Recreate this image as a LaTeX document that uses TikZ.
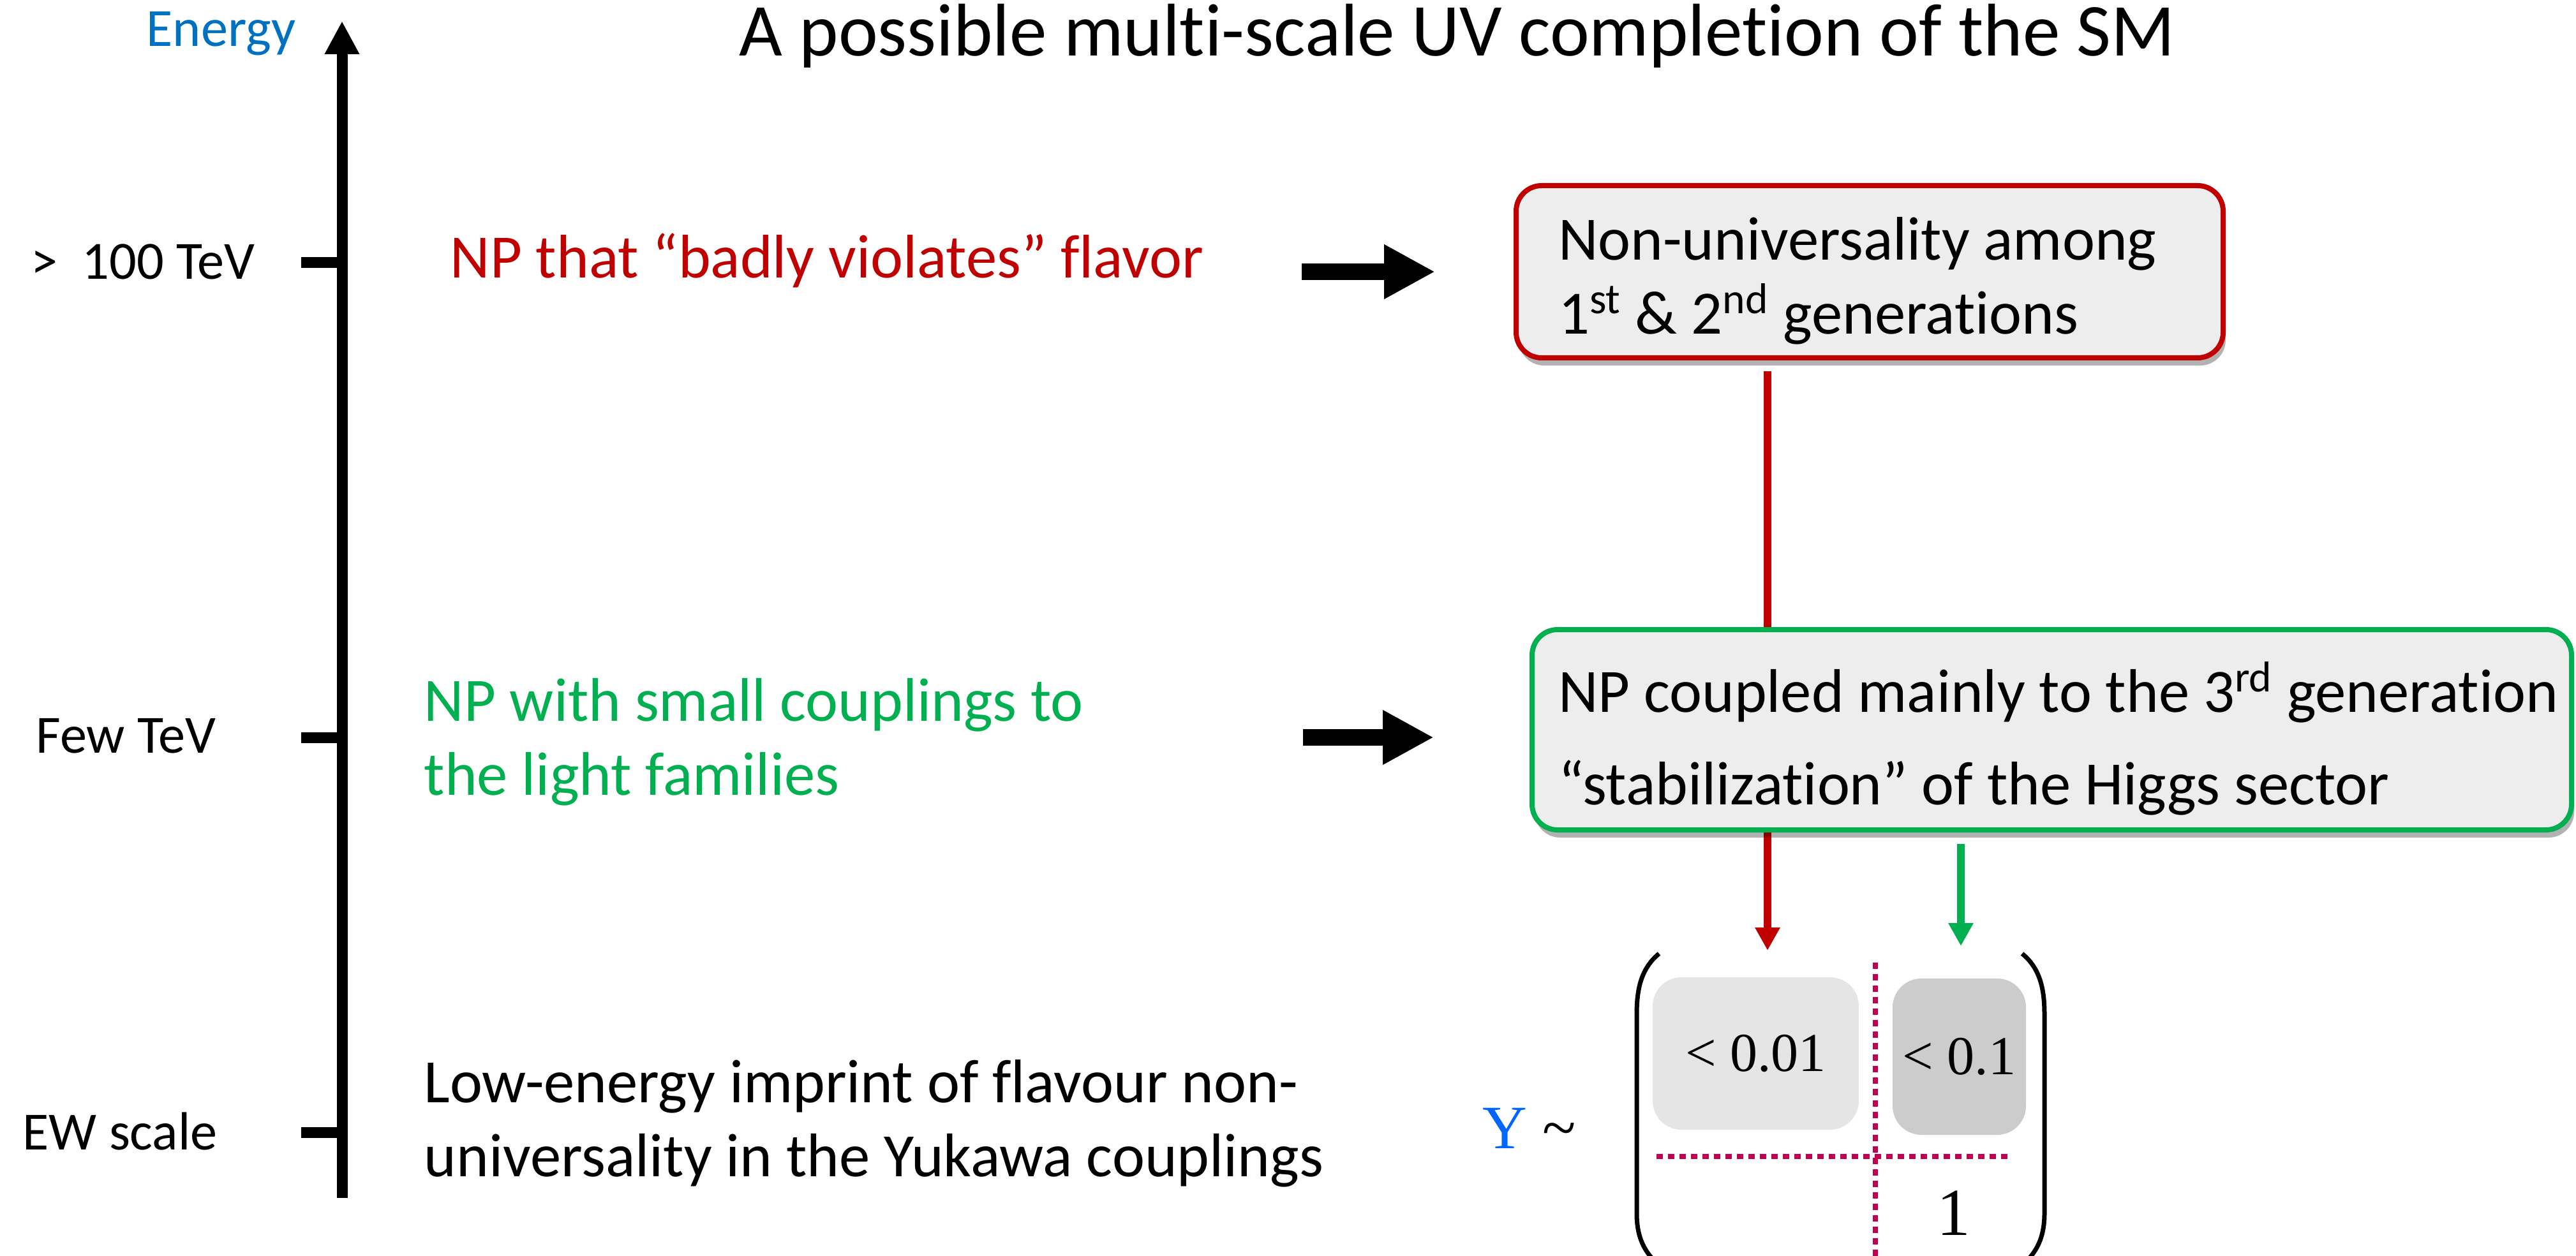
\documentclass[tikz,border=0pt]{standalone}
\usepackage{fontspec}
\setmainfont{Carlito}[Ligatures=NoCommon]
\newfontfamily\tms{Liberation Serif}
\usetikzlibrary{arrows.meta, positioning, shadows}
\definecolor{cred}{HTML}{C00000}
\definecolor{cgreen}{HTML}{00B050}
\definecolor{cblue}{HTML}{0070C0}
\definecolor{cyblue}{HTML}{0066FF}
\definecolor{cfill}{HTML}{EDEDED}
\definecolor{cdot}{HTML}{C00050}
\tikzset{
  lvl/.style={font=\fontsize{24}{29}\selectfont, inner sep=0pt, anchor=base west},
  desc/.style={font=\fontsize{27.5}{33}\selectfont, inner sep=0pt, align=flush left, anchor=base west},
  npbox/.style={draw=#1, fill=cfill, line width=0.08cm, rounded corners=0.4cm, align=flush left,
    font=\fontsize{27.5}{33}\selectfont,
    drop shadow={shadow xshift=0.04cm, shadow yshift=-0.12cm, opacity=0.3, fill=black}},
  link/.style={-{Triangle[width=0.37cm, length=0.36cm]}, draw=#1, line width=0.12cm},
  fat/.style={-{Triangle[width=0.80cm, length=0.80cm]}, line width=0.26cm},
  cell/.style={fill=#1, rounded corners=0.45cm, font=\tms\fontsize{24.5}{29}\selectfont, inner sep=0pt},
  grid/.style={draw=cdot, line width=0.08cm, dash pattern=on 0.10cm off 0.08cm},
}

\begin{document}
\begin{tikzpicture}
  \useasboundingbox (0,0) rectangle (40.37,-19.69);
  \node[font=\fontsize{33.3}{40}\selectfont, inner sep=0pt, anchor=base] (title) at (22.84,-0.88) {A possible multi-scale UV completion of the SM};
  % energy axis
  \coordinate (axbot) at (5.36,-18.78);
  \coordinate (axtop) at (5.36,-0.33);
  \draw[line width=0.17cm, -{Triangle[width=0.51cm, length=0.52cm]}] (axbot) -- (axtop);
  \node[lvl, anchor=base east, text=cblue] (energy) at (4.64,-0.73) {Energy};
  \foreach \n/\y in {t1/4.12, t2/11.56, t3/17.75} {
    \coordinate (\n) at (5.36,-\y);
    \draw[line width=0.17cm] (\n) -- ++(-0.64,0);
  }
  \node[lvl] (l1) at (0.48,-4.38) {>\ \ 100 TeV};
  \node[lvl] (l2) at (0.56,-11.80) {Few TeV};
  \node[lvl] (l3) at (0.35,-18.02) {EW scale};
  % descriptions
  \node[desc, text=cred] (np1) at (7.05,-4.36) {NP that “badly violates” flavor};
  \node[desc, text=cgreen] (np2) at (6.64,-12.46) {NP with small couplings to\\the light families};
  \node[desc] (np3) at (6.64,-18.44) {Low-energy imprint of flavour non-\\universality in the Yukawa couplings};
  \coordinate (a1) at (20.40,-4.26);
  \coordinate (a2) at (20.42,-11.56);
  \draw[fat] (a1) -- ++(2.09,0);
  \draw[fat] (a2) -- ++(2.05,0);
  % boxes
  \node[npbox=cred, minimum height=2.70cm, text width=9.76cm, inner xsep=0.66cm] (box1) at (29.30,-4.26)
    {\rule{0pt}{0.96cm}Non-universality among\\1\textsuperscript{st} \& 2\textsuperscript{nd} generations};
  \coordinate (rtip) at (27.70,-14.90);
  \coordinate (gtip) at (30.73,-14.83);
  \draw[link=cred, shorten <=0.17cm] (box1.south -| rtip) -- (rtip);
  \node[npbox=cgreen, minimum height=3.14cm, text width=15.47cm, inner xsep=0.41cm] (box2) at (32.155,-11.44)
    {\mbox{\rule{0pt}{1.07cm}NP coupled mainly to the 3\textsuperscript{rd} generation}\\[0.29cm]“stabilization” of the Higgs sector};
  \draw[link=cgreen, shorten <=0.18cm] (box2.south -| gtip) -- (gtip);
  % Yukawa matrix
  \node[inner sep=0pt, anchor=base west, font=\tms\fontsize{27.5}{33}\selectfont] (yuk) at (23.23,-18.00) {\textcolor{cyblue}{Y} \textasciitilde};
  \node[cell=black!10, minimum width=3.23cm, minimum height=2.39cm] (c11) at (27.515,-16.515) {< 0.01};
  \node[cell=black!20, minimum width=2.09cm, minimum height=2.45cm] (c12) at (30.705,-16.565) {< 0.1};
  \node[font=\tms\fontsize{30}{36}\selectfont, inner sep=0pt, anchor=base] (c22) at (30.62,-19.36) {1};
  \draw[grid] (29.39,-15.09) -- (29.39,-19.69);
  \draw[grid] (25.96,-18.13) -- (31.52,-18.13);
  \draw[line width=0.07cm] (26.00,-14.95) .. controls (25.72,-15.18) and (25.65,-15.50) .. (25.65,-15.90)
    -- (25.65,-19.02) .. controls (25.65,-19.35) and (25.74,-19.58) .. (25.94,-19.78);
  \draw[line width=0.07cm] (31.69,-14.95) .. controls (31.97,-15.18) and (32.04,-15.50) .. (32.04,-15.90)
    -- (32.04,-19.02) .. controls (32.04,-19.35) and (31.95,-19.58) .. (31.75,-19.78);
\end{tikzpicture}
\end{document}
